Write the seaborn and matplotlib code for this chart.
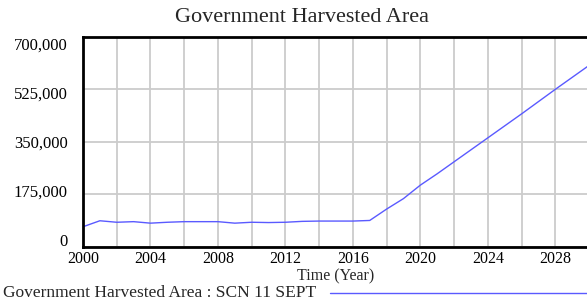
import numpy as np
import pandas as pd
import seaborn as sns
import matplotlib.pyplot as plt
from matplotlib.transforms import ScaledTranslation
from matplotlib.ticker import FuncFormatter

years = list(range(2000, 2031))
harvested_area = [66000, 86000, 81000, 83000, 78000, 81000, 83000, 83000, 83000, 78000,
                  81000, 80000, 81000, 84000, 85000, 85000, 85000, 87000, 125000, 160000,
                  205000, 243000, 283000, 323000, 363000, 403000, 443000, 484000, 525000,
                  565000, 605000]
y_ticks = [0, 175000, 350000, 525000, 700000]
x_ticks = list(range(2000, 2030, 4))
series_name = "Government Harvested Area : SCN 11 SEPT"

df = pd.DataFrame({"Year": years, "Area": harvested_area})

sns.set_theme(style="white")
plt.rcParams['font.family'] = ['Liberation Serif', 'DejaVu Serif']

fig = plt.figure(figsize=(5.87, 3.03), dpi=100)
ax = fig.add_axes([83 / 587, 56.5 / 303, 506 / 587, 209.5 / 303])

sns.lineplot(data=df, x="Year", y="Area", ax=ax, color="#5a5aff", linewidth=1)

ax.set_xlim(2000, 2030)
ax.set_ylim(0, 700000)
ax.set_xticks(range(2000, 2031, 2), minor=True)
ax.set_xticks(x_ticks)
ax.set_yticks(y_ticks)
ax.yaxis.set_major_formatter(FuncFormatter(lambda v, p: f"{int(v):,}"))
ax.grid(True, which="both", axis="x", color="#cccccc", linewidth=1.3)
ax.grid(True, which="major", axis="y", color="#cccccc", linewidth=1.3)
ax.tick_params(which="both", length=0, colors="black")
ax.tick_params(axis="x", labelsize=11.5, pad=3)
ax.tick_params(axis="y", labelsize=12, pad=11)

for i, lab in enumerate(ax.get_yticklabels()):
    off = (-6.5 + 3.4 * i) / 100
    lab.set_transform(lab.get_transform() + ScaledTranslation(0, -off, fig.dpi_scale_trans))

for side in ["left", "bottom", "top"]:
    ax.spines[side].set_color("black")
    ax.spines[side].set_linewidth(2)
ax.spines["right"].set_visible(False)

ax.set_xlabel("Time (Year)", fontsize=11.5, labelpad=1)
ax.set_ylabel("")
fig.text(302 / 587, 1 - 17 / 303, "Government Harvested Area", ha="center", va="center",
         fontsize=16)
fig.text(3 / 587, 1 - 293 / 303, series_name, ha="left", va="center", fontsize=12.5)
fig.add_artist(plt.Line2D([330 / 587, 1.0], [1 - 293 / 303, 1 - 293 / 303],
                          color="#5a5aff", linewidth=1))

fig.savefig("out.png", dpi=100)
